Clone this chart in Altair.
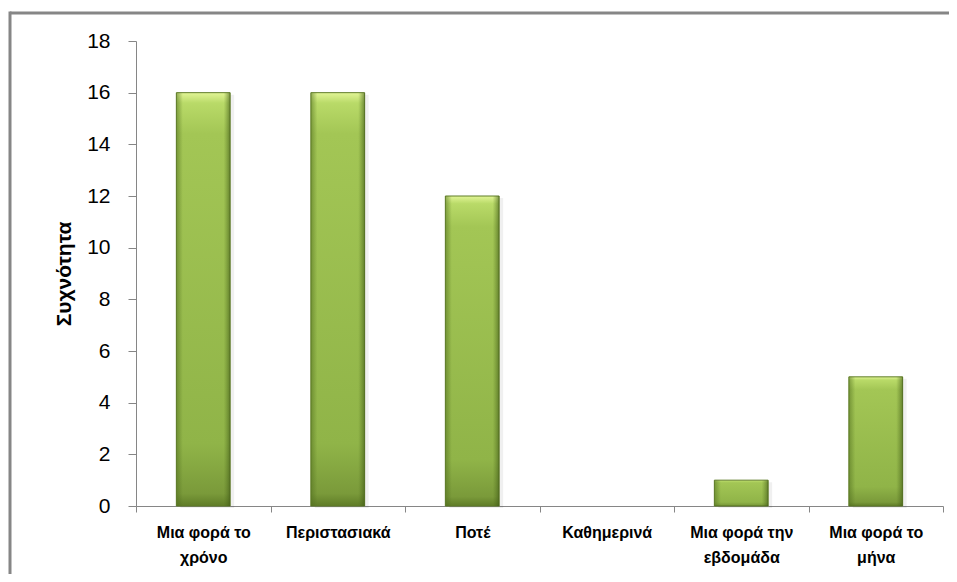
import altair as alt
import pandas as pd

categories = ["Μια φορά το χρόνο", "Περιστασιακά", "Ποτέ", "Καθημερινά",
              "Μια φορά την εβδομάδα", "Μια φορά το μήνα"]
label_lines = [["Μια φορά το", "χρόνο"], ["Περιστασιακά"], ["Ποτέ"], ["Καθημερινά"],
               ["Μια φορά την", "εβδομάδα"], ["Μια φορά το", "μήνα"]]
values = [16, 16, 12, 0, 1, 5]
y_ticks = [0, 2, 4, 6, 8, 10, 12, 14, 16, 18]

df = pd.DataFrame({"cat": categories, "val": values})

label_expr = ""
for c, lines in zip(categories, label_lines):
    arr = "[" + ", ".join("'" + s + "'" for s in lines) + "]"
    label_expr += "datum.value == '" + c + "' ? " + arr + " : "
label_expr += "datum.value"

x = alt.X("cat:N", sort=categories, title=None,
          scale=alt.Scale(domain=categories, paddingInner=0, paddingOuter=0),
          axis=alt.Axis(labelAngle=0, tickBand="extent", labelExpr=label_expr,
                        labelFont="Liberation Sans", labelFontSize=16, labelFontWeight="bold",
                        labelColor="#000000", labelPadding=12, labelLineHeight=25,
                        domainColor="#868686", tickColor="#868686", tickSize=6))
y = alt.Y("val:Q", title="Συχνότητα",
          scale=alt.Scale(domain=[0, 18], nice=False),
          axis=alt.Axis(values=y_ticks, grid=False, labelFont="Liberation Sans",
                        labelFontSize=21, labelColor="#000000", labelPadding=18,
                        tickSize=8, domainColor="#868686", tickColor="#868686",
                        titleFont="Liberation Sans", titleFontSize=21, titleFontWeight="bold",
                        titleColor="#000000", titlePadding=12))

vgrad = alt.Gradient(gradient="linear", x1=0, x2=0, y1=0, y2=1, stops=[
    alt.GradientStop(color="#e2f596", offset=0),
    alt.GradientStop(color="#b9da68", offset=0.025),
    alt.GradientStop(color="#a3c655", offset=0.1),
    alt.GradientStop(color="#90b448", offset=0.85),
    alt.GradientStop(color="#7a9a3a", offset=0.97),
    alt.GradientStop(color="#5f7c27", offset=1),
])
hgrad = alt.Gradient(gradient="linear", x1=0, x2=1, y1=0, y2=0, stops=[
    alt.GradientStop(color="rgba(80,110,30,0.55)", offset=0),
    alt.GradientStop(color="rgba(80,110,30,0)", offset=0.12),
    alt.GradientStop(color="rgba(80,110,30,0)", offset=0.88),
    alt.GradientStop(color="rgba(60,85,20,0.6)", offset=1),
])

base = alt.Chart(df).transform_filter("datum.val > 0")
bw = alt.RelativeBandSize(0.4)
shadow = base.mark_bar(color="#000000", opacity=0.06, xOffset=4, yOffset=2, width=bw).encode(x=x, y=y)
bars = base.mark_bar(color=vgrad, stroke="#5f7c27", strokeWidth=1, width=bw).encode(x=x, y=y)
edges = base.mark_bar(color=hgrad, width=bw).encode(x=x, y=y)

frame_df = pd.DataFrame({"a": [0]})
top_line = alt.Chart(frame_df).mark_rule(color="#868686", strokeWidth=3).encode(
    x=alt.value(-126), x2=alt.value(820), y=alt.value(-28))
left_line = alt.Chart(frame_df).mark_rule(color="#868686", strokeWidth=3).encode(
    x=alt.value(-126), y=alt.value(-29.5), y2=alt.value(540))

chart = alt.layer(shadow, bars, edges, top_line, left_line).properties(
    width=807, height=465,
    autosize=alt.AutoSizeParams(type="none"),
    padding={"left": 128, "top": 33, "right": 6, "bottom": 68},
).configure_view(stroke=None)

chart.save("out.html", embed_options={"renderer": "svg", "actions": False})
